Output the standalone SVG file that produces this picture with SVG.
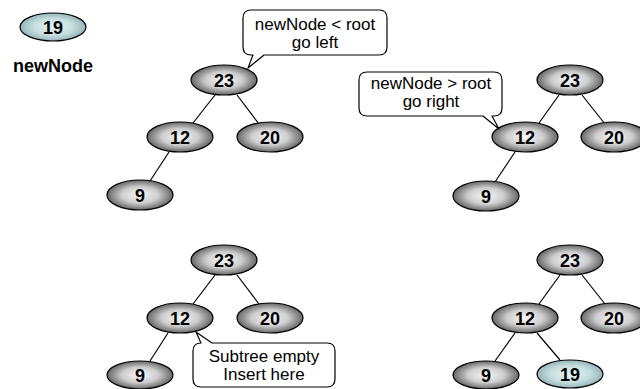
<svg xmlns="http://www.w3.org/2000/svg" width="640" height="389" viewBox="0 0 640 389">
<defs>
<radialGradient id="grey" cx="0.5" cy="0.5" r="0.5">
<stop offset="0" stop-color="#f8f8f8"/>
<stop offset="0.55" stop-color="#cdcdcd"/>
<stop offset="1" stop-color="#666666"/>
</radialGradient>
<radialGradient id="cyan" cx="0.5" cy="0.5" r="0.5">
<stop offset="0" stop-color="#e4f2f2"/>
<stop offset="0.6" stop-color="#c6dedf"/>
<stop offset="1" stop-color="#94b4b8"/>
</radialGradient>
</defs>
<style>
.n ellipse{fill:url(#grey);stroke:#000;stroke-width:1.2}
.n.new ellipse{fill:url(#cyan)}
.n text{font-family:"Liberation Sans",Arial,sans-serif;font-weight:bold;font-size:18px;text-anchor:middle;fill:#000}
.edges line{stroke:#000;stroke-width:1.2}
.call path{fill:#fff;stroke:#000;stroke-width:1.2;stroke-linejoin:round}
.call text{font-family:"Liberation Sans",Arial,sans-serif;font-size:17px;text-anchor:middle;fill:#000}
.lbl{font-family:"Liberation Sans",Arial,sans-serif;font-weight:bold;font-size:18px;text-anchor:middle;fill:#000}
</style>

<g class="edges" id="connectors">
<line x1="215" y1="95" x2="193" y2="123"/>
<line x1="237" y1="95" x2="259" y2="124"/>
<line x1="169" y1="152" x2="150" y2="181"/>
<line x1="559" y1="95" x2="539" y2="123"/>
<line x1="582" y1="95" x2="605" y2="124"/>
<line x1="515" y1="152" x2="495" y2="182"/>
<line x1="215" y1="275" x2="193" y2="304"/>
<line x1="237" y1="275" x2="259" y2="304"/>
<line x1="168" y1="333" x2="150" y2="361"/>
<line x1="560" y1="275" x2="539" y2="304"/>
<line x1="582" y1="275" x2="605" y2="304"/>
<line x1="515" y1="333" x2="495" y2="361"/>
<line x1="537" y1="333" x2="560" y2="360"/>
</g>

<g class="n new" id="node-newNode"><ellipse cx="53" cy="27" rx="33" ry="14"/><text x="53" y="33.5">19</text></g>
<text class="lbl" x="53" y="72">newNode</text>

<g class="n" id="t1-23"><ellipse cx="224" cy="80" rx="33" ry="15"/><text x="224" y="86.5">23</text></g>
<g class="n" id="t1-12"><ellipse cx="180" cy="137" rx="33" ry="15"/><text x="180" y="143.5">12</text></g>
<g class="n" id="t1-20"><ellipse cx="270" cy="137" rx="33" ry="15"/><text x="270" y="143.5">20</text></g>
<g class="n" id="t1-9"><ellipse cx="140" cy="195" rx="33" ry="15"/><text x="140" y="201.5">9</text></g>

<g class="n" id="t2-23"><ellipse cx="570" cy="80" rx="33" ry="15"/><text x="570" y="86.5">23</text></g>
<g class="n" id="t2-12"><ellipse cx="525" cy="137" rx="33" ry="15"/><text x="525" y="143.5">12</text></g>
<g class="n" id="t2-20"><ellipse cx="614" cy="137" rx="33" ry="15"/><text x="614" y="143.5">20</text></g>
<g class="n" id="t2-9"><ellipse cx="486" cy="196" rx="33" ry="15"/><text x="486" y="202.5">9</text></g>

<g class="n" id="t3-23"><ellipse cx="224" cy="260" rx="33" ry="15"/><text x="224" y="266.5">23</text></g>
<g class="n" id="t3-12"><ellipse cx="180" cy="318" rx="33" ry="15"/><text x="180" y="324.5">12</text></g>
<g class="n" id="t3-20"><ellipse cx="270" cy="318" rx="33" ry="15"/><text x="270" y="324.5">20</text></g>
<g class="n" id="t3-9"><ellipse cx="140" cy="375" rx="33" ry="14"/><text x="140" y="381.5">9</text></g>

<g class="n" id="t4-23"><ellipse cx="570" cy="260" rx="33" ry="15"/><text x="570" y="266.5">23</text></g>
<g class="n" id="t4-12"><ellipse cx="525" cy="318" rx="33" ry="15"/><text x="525" y="324.5">12</text></g>
<g class="n" id="t4-20"><ellipse cx="614" cy="318" rx="33" ry="15"/><text x="614" y="324.5">20</text></g>
<g class="n" id="t4-9"><ellipse cx="486" cy="375" rx="33" ry="14"/><text x="486" y="381.5">9</text></g>
<g class="n new" id="t4-19"><ellipse cx="570" cy="374" rx="33" ry="14"/><text x="570" y="380.5">19</text></g>

<g class="call" id="callout-left">
<path d="M251,10 H379 Q387,10 387,18 V47 Q387,55 379,55 H264 L248,68 L253,55 H251 Q243,55 243,47 V18 Q243,10 251,10 Z"/>
<text x="315" y="30">newNode &lt; root</text>
<text x="315" y="48">go left</text>
</g>
<g class="call" id="callout-right">
<path d="M367,72 H494 Q502,72 502,80 V108 Q502,116 494,116 H492 L499,129 L483,116 H367 Q359,116 359,108 V80 Q359,72 367,72 Z"/>
<text x="431" y="89">newNode &gt; root</text>
<text x="431" y="107">go right</text>
</g>
<g class="call" id="callout-empty">
<path d="M201,343 L196,332 L212,343 H327 Q335,343 335,351 V379 Q335,387 327,387 H201 Q193,387 193,379 V351 Q193,343 201,343 Z"/>
<text x="264" y="362">Subtree empty</text>
<text x="264" y="380">Insert here</text>
</g>
</svg>
